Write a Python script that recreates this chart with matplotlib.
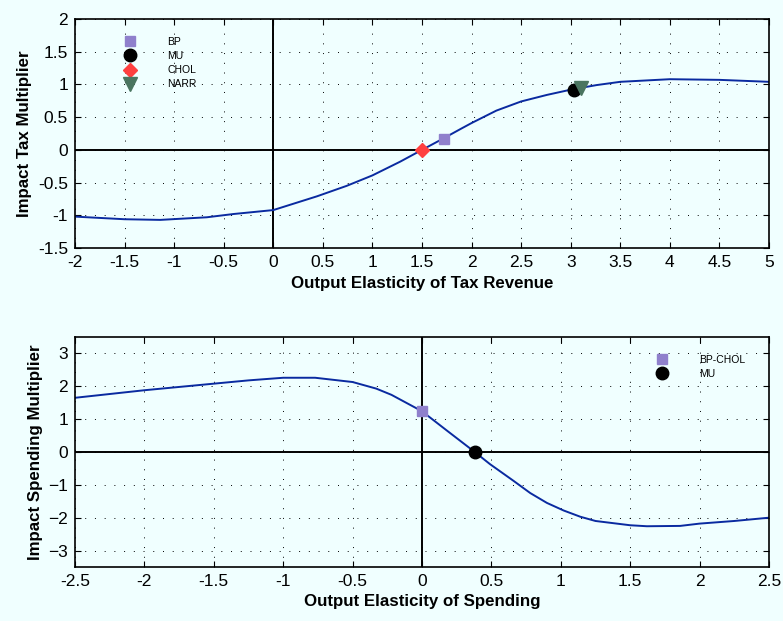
import numpy as np
import matplotlib.pyplot as plt

plt.rcParams['font.family'] = ['Liberation Sans', 'DejaVu Sans']

# top panel: tax multiplier vs output elasticity of tax revenue
tax_elast = [-2.0, -1.5, -1.14, -0.67, -0.4, 0.0, 0.44, 0.74, 1.0, 1.28, 1.5, 1.71, 1.89,
             2.0, 2.25, 2.5, 2.76, 3.0, 3.26, 3.5, 4.0, 4.5, 5.0]
tax_mult = [-1.02, -1.06, -1.07, -1.03, -0.98, -0.92, -0.71, -0.55, -0.39, -0.18, 0.0, 0.17, 0.32,
            0.41, 0.6, 0.74, 0.84, 0.92, 0.99, 1.04, 1.08, 1.07, 1.04]

tax_labels = ['BP', 'MU', 'CHOL', 'NARR']
tax_pts_x = [1.72, 3.03, 1.5, 3.1]
tax_pts_y = [0.17, 0.92, 0.0, 0.94]

# bottom panel: spending multiplier vs output elasticity of spending
sp_elast = [-2.5, -2.0, -1.5, -1.25, -1.0, -0.77, -0.5, -0.33, -0.22, 0.0, 0.18, 0.38, 0.49,
            0.66, 0.78, 0.9, 1.02, 1.14, 1.25, 1.5, 1.62, 1.86, 2.0, 2.25, 2.5]
sp_mult = [1.65, 1.88, 2.08, 2.18, 2.26, 2.26, 2.13, 1.93, 1.74, 1.24, 0.65, 0.0, -0.37,
           -0.88, -1.25, -1.55, -1.78, -1.97, -2.1, -2.23, -2.26, -2.25, -2.18, -2.1, -2.0]

sp_labels = ['BP-CHOL', 'MU']
sp_pts_x = [0.0, 0.38]
sp_pts_y = [1.24, 0.0]

styles = {
    'BP': dict(marker='s', color='#8f80cc', ms=7.5),
    'BP-CHOL': dict(marker='s', color='#8f80cc', ms=7.5),
    'MU': dict(marker='o', color='black', ms=9),
    'CHOL': dict(marker='D', color='#ff4040', ms=7.5),
    'NARR': dict(marker='v', color='#4a7560', ms=9.5),
}

bg = '#f0ffff'
fig = plt.figure(figsize=(7.83, 6.21), dpi=100, facecolor=bg)
ax1 = fig.add_axes([0.0958, 0.6006, 0.8863, 0.3688])
ax2 = fig.add_axes([0.0958, 0.087, 0.8863, 0.3703])


def style_axes(ax):
    ax.set_facecolor(bg)
    ax.grid(True, color='black', linestyle=(0, (1, 9)), linewidth=0.7)
    ax.tick_params(direction='in', top=True, right=True, labelsize=12.5, length=4, pad=5)
    for s in ax.spines.values():
        s.set_linewidth(1.2)
    ax.axhline(0, color='black', lw=1.4, zorder=1)
    ax.axvline(0, color='black', lw=1.4, zorder=1)


style_axes(ax1)
ax1.plot(tax_elast, tax_mult, color='#0a2aa0', lw=1.4, zorder=2)
for lab, x, y in zip(tax_labels, tax_pts_x, tax_pts_y):
    st = styles[lab]
    ax1.plot([x], [y], linestyle='none', marker=st['marker'], color=st['color'],
             ms=st['ms'], label=lab, zorder=3)
ax1.set_xlim(-2, 5)
ax1.set_ylim(-1.5, 2)
ax1.set_xticks(np.arange(-2, 5.01, 0.5))
ax1.set_xticklabels(['-2', '-1.5', '-1', '-0.5', '0', '0.5', '1', '1.5', '2', '2.5', '3', '3.5', '4', '4.5', '5'])
ax1.set_yticks(np.arange(-1.5, 2.01, 0.5))
ax1.set_yticklabels(['-1.5', '-1', '-0.5', '0', '0.5', '1', '1.5', '2'])
ax1.set_xlabel('Output Elasticity of Tax Revenue', fontsize=12.2, fontweight='bold', labelpad=4)
ax1.set_ylabel('Impact Tax Multiplier', fontsize=12.2, fontweight='bold', labelpad=4)
ax1.legend(loc='upper left', bbox_to_anchor=(0.05, 0.963), frameon=False, fontsize=7.5,
           handlelength=2, handletextpad=2.6, labelspacing=0.4, numpoints=1)

style_axes(ax2)
ax2.plot(sp_elast, sp_mult, color='#0a2aa0', lw=1.4, zorder=2)
for lab, x, y in zip(sp_labels, sp_pts_x, sp_pts_y):
    st = styles[lab]
    ax2.plot([x], [y], linestyle='none', marker=st['marker'], color=st['color'],
             ms=st['ms'], label=lab, zorder=3)
ax2.set_xlim(-2.5, 2.5)
ax2.set_ylim(-3.5, 3.5)
ax2.set_xticks(np.arange(-2.5, 2.51, 0.5))
ax2.set_xticklabels(['-2.5', '-2', '-1.5', '-1', '-0.5', '0', '0.5', '1', '1.5', '2', '2.5'])
ax2.set_yticks(np.arange(-3, 3.01, 1))
ax2.set_xlabel('Output Elasticity of Spending', fontsize=12.2, fontweight='bold', labelpad=4)
ax2.set_ylabel('Impact Spending Multiplier', fontsize=12.2, fontweight='bold', labelpad=4)
ax2.legend(loc='upper right', bbox_to_anchor=(0.98, 0.963), frameon=False, fontsize=7.5,
           handlelength=2, handletextpad=2.6, labelspacing=0.4, numpoints=1)

fig.savefig('out.png', dpi=100, facecolor=bg)
